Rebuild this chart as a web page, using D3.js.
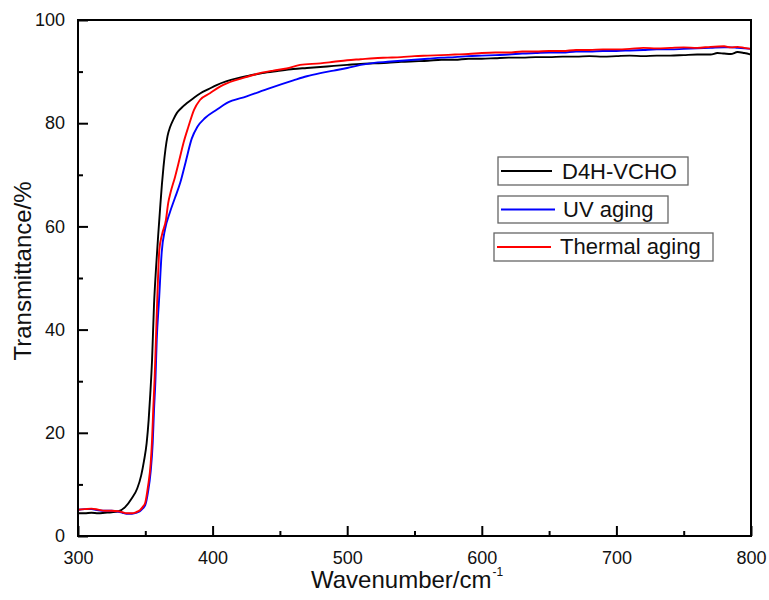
<!DOCTYPE html>
<html>
<head>
<meta charset="utf-8">
<script src="https://cdn.jsdelivr.net/npm/d3@7"></script>
<style>
  html, body { margin: 0; padding: 0; background: #fff; }
  svg { display: block; font-family: "Liberation Sans", Arial, sans-serif; }
</style>
</head>
<body>
<svg id="chart" width="769" height="600"></svg>
<script>
// Transmittance spectra (wavenumber vs. %T)
const blackX = [300,305,310,315,320,325,330,335,340,344,347,349,351,352.5,353.7,355,356.5,358,359.5,361,362.3,363.5,365,366.5,368.5,371,373.5,377,381,386,391,397,403,410,418,427,437,448,460,470,480,490,500,510,520,530,540,550,560,570,580,590,600,610,620,630,640,650,660,670,680,690,700,710,720,730,740,750,760,770,775,780,785,790,795,800];
const blackY = [4.4,4.4,4.5,4.4,4.5,4.6,4.8,5.6,7.3,9.2,11.8,14.5,18.0,22.5,27.5,34,45,52,58,63.5,68,71.5,75,77.5,79.3,80.8,82,83,83.9,84.9,85.8,86.6,87.4,88.1,88.7,89.2,89.7,90.1,90.5,90.7,90.9,91.1,91.3,91.5,91.6,91.7,91.9,92.0,92.1,92.3,92.3,92.5,92.5,92.6,92.7,92.7,92.8,92.8,92.9,92.9,93.0,92.9,93.0,93.1,93.0,93.1,93.1,93.2,93.3,93.3,93.6,93.5,93.4,93.8,93.6,93.3];

const blueX = [300,305,310,315,320,325,330,333,336,340,343,346,348,350,352,354,355.5,356.5,357.5,358.5,360.2,362.2,364.7,368,372,376,380,384.5,388.7,394.4,403,410.4,425.3,442.6,460,470,480,490,500,510,520,530,540,550,560,570,580,590,600,610,620,630,640,650,660,670,680,690,700,710,720,730,740,750,760,770,780,785,790,795,800];
const blueY = [5.1,5.2,5.2,5.0,4.9,4.9,4.7,4.5,4.3,4.3,4.5,4.8,5.3,6.0,8.5,12.5,18,24.5,30,38,45.7,55,59.5,62.5,65.5,68.5,72.5,77,79.3,81.0,82.6,83.9,85.2,86.8,88.3,89.1,89.7,90.2,90.7,91.3,91.7,91.9,92.1,92.3,92.5,92.7,92.8,93.0,93.1,93.2,93.3,93.5,93.6,93.7,93.7,93.9,93.9,94.0,94.0,94.1,94.2,94.3,94.3,94.4,94.5,94.6,94.7,94.7,94.6,94.5,94.4];

const redX = [300,305,310,315,320,325,330,333,336,340,343,346,348,350,352,354,355,355.9,357,358,358.9,360.4,362.5,365.3,367,369,372,375.3,378.5,382,386.2,390.6,398,405.5,417.8,427,435,445,455,465,480,490,500,510,520,530,540,550,560,570,580,590,600,610,620,630,640,650,660,670,680,690,700,710,720,730,740,750,760,770,780,785,790,795,800];
const redY = [5.1,5.2,5.3,5.1,4.9,4.9,4.8,4.6,4.4,4.4,4.6,5.0,5.6,6.5,9.6,14.1,18.5,24.5,31,39,46,55.4,58.5,61.2,64.5,66.8,69.5,72.9,76.3,79.3,82.6,84.5,85.8,87.1,88.4,89.1,89.7,90.2,90.6,91.3,91.6,91.9,92.2,92.4,92.6,92.7,92.8,93.0,93.1,93.2,93.3,93.4,93.6,93.7,93.7,93.9,93.9,94.0,94.0,94.2,94.2,94.3,94.3,94.4,94.6,94.5,94.6,94.7,94.6,94.8,94.9,94.7,94.8,94.6,94.4];

const seriesNames = ["D4H-VCHO", "UV aging", "Thermal aging"];
const seriesColors = ["#000000", "#0000ff", "#ff0000"];
const xMajorTicks = [300, 400, 500, 600, 700, 800];
const xMinorTicks = [350, 450, 550, 650, 750];
const yMajorTicks = [0, 20, 40, 60, 80, 100];
const yMinorTicks = [10, 30, 50, 70, 90];

const series = [
  { name: seriesNames[0], color: seriesColors[0], x: blackX, y: blackY },
  { name: seriesNames[1], color: seriesColors[1], x: blueX, y: blueY },
  { name: seriesNames[2], color: seriesColors[2], x: redX, y: redY }
];

const svg = d3.select("#chart");
const plotL = 78, plotR = 751, plotT = 20, plotB = 536;

const x = d3.scaleLinear().domain([300, 800]).range([plotL, plotR]);
const y = d3.scaleLinear().domain([0, 100]).range([plotB, plotT]);

// data lines
const line = d3.line().x(d => x(d[0])).y(d => y(d[1])).curve(d3.curveMonotoneX);
const plot = svg.append("g");
series.forEach(s => {
  plot.append("path")
    .datum(s.x.map((v, i) => [v, s.y[i]]))
    .attr("fill", "none")
    .attr("stroke", s.color)
    .attr("stroke-width", 1.9)
    .attr("stroke-linejoin", "round")
    .attr("d", line);
});

// frame
svg.append("rect")
  .attr("x", plotL).attr("y", plotT)
  .attr("width", plotR - plotL).attr("height", plotB - plotT)
  .attr("fill", "none").attr("stroke", "#000").attr("stroke-width", 2);

// axes with inward ticks
const xAxis = svg.append("g").attr("transform", `translate(0,${plotB})`)
  .call(d3.axisBottom(x).tickValues(xMajorTicks).tickSize(-10).tickPadding(15).tickFormat(d3.format("d")));
const xMinor = svg.append("g").attr("transform", `translate(0,${plotB})`)
  .call(d3.axisBottom(x).tickValues(xMinorTicks).tickSize(-5).tickFormat(""));
const yAxis = svg.append("g").attr("transform", `translate(${plotL},0)`)
  .call(d3.axisLeft(y).tickValues(yMajorTicks).tickSize(-10).tickPadding(13).tickFormat(d3.format("d")));
const yMinor = svg.append("g").attr("transform", `translate(${plotL},0)`)
  .call(d3.axisLeft(y).tickValues(yMinorTicks).tickSize(-5).tickFormat(""));

[xAxis, xMinor, yAxis, yMinor].forEach(g => {
  g.select(".domain").remove();
  g.selectAll(".tick line").attr("stroke", "#000").attr("stroke-width", 2);
  g.selectAll(".tick text").attr("font-size", 18).attr("fill", "#111")
    .attr("font-family", "'Liberation Sans', Arial, sans-serif");
});

// axis titles
const xt = svg.append("text")
  .attr("x", 311).attr("y", 588)
  .attr("font-size", 24).attr("fill", "#111");
xt.append("tspan").text("Wavenumber/cm");
xt.append("tspan").attr("font-size", 12).attr("dy", -12).attr("dx", 1).text("-1");

svg.append("text")
  .attr("transform", "translate(31,271) rotate(-90)")
  .attr("text-anchor", "middle")
  .attr("font-size", 24).attr("fill", "#111")
  .text("Transmittance/%");

// legend: one framed entry per series
const legendBoxes = [
  { x0: 498, y0: 157, w: 190, h: 28, lx0: 501, lx1: 552, tx: 562, ty: 179 },
  { x0: 498, y0: 196, w: 170, h: 27, lx0: 501, lx1: 555, tx: 563, ty: 217 },
  { x0: 494, y0: 233, w: 219, h: 28, lx0: 497, lx1: 551, tx: 560, ty: 254 }
];
series.forEach((s, i) => {
  const b = legendBoxes[i];
  const g = svg.append("g");
  g.append("rect").attr("x", b.x0).attr("y", b.y0).attr("width", b.w).attr("height", b.h)
    .attr("fill", "#fff").attr("stroke", "#666").attr("stroke-width", 1.3);
  const ly = b.y0 + b.h / 2;
  g.append("line").attr("x1", b.lx0).attr("x2", b.lx1).attr("y1", ly).attr("y2", ly)
    .attr("stroke", s.color).attr("stroke-width", 1.8);
  g.append("text").attr("x", b.tx).attr("y", b.ty).attr("font-size", 22).attr("fill", "#111").text(s.name);
});
</script>
</body>
</html>
